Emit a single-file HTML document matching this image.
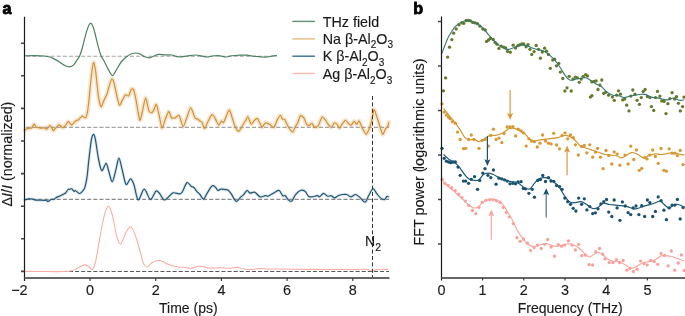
<!DOCTYPE html>
<html><head><meta charset="utf-8"><style>
html,body{margin:0;padding:0;background:#fff;}
body{width:685px;height:316px;overflow:hidden;}
svg{display:block;will-change:transform;}
text{font-family:"Liberation Sans", sans-serif;fill:#1a1a1a;stroke:#1a1a1a;stroke-width:0.15px;}
</style></head><body>
<svg width="685" height="316" viewBox="0 0 685 316">
<rect width="685" height="316" fill="#fff"/>
<path d="M25.1 130.2C25.3 130.04 26.35 129.02 26.8 128.8C27.25 128.58 28.42 128.43 29 128.3C29.58 128.17 31.19 128.2 31.8 127.7C32.41 127.2 33.69 124.07 34.2 124C34.71 123.93 35.64 126.67 36.2 127.1C36.76 127.53 38.36 127.56 39 127.7C39.64 127.84 41.13 128.3 41.7 128.3C42.27 128.3 43.32 127.61 43.9 127.7C44.48 127.79 45.99 129.36 46.7 129.1C47.41 128.84 49.42 125.66 50 125.5C50.58 125.34 51.32 127.09 51.7 127.7C52.09 128.31 52.79 130.7 53.3 130.7C53.81 130.7 55.45 128.38 56.1 127.7C56.75 127.02 58.32 125.06 58.9 124.9C59.48 124.74 60.65 125.97 61.1 126.3C61.55 126.63 62.29 127.79 62.8 127.7C63.31 127.61 64.86 126.21 65.5 125.5C66.14 124.79 67.59 121.67 68.3 121.6C69.01 121.53 70.89 124.83 71.6 124.9C72.31 124.97 73.82 122.74 74.4 122.2C74.98 121.66 76.14 120.56 76.6 120.3C77.05 120.04 77.91 120.23 78.3 120C78.69 119.77 79.46 118.75 79.9 118.3C80.34 117.84 81.52 116.17 82.1 116.1C82.68 116.03 84.45 117.57 84.9 117.7C85.36 117.83 85.71 117.81 86 117.2C86.29 116.59 87.1 114.1 87.4 112.5C87.7 110.9 88.14 107.7 88.6 103.5C89.05 99.3 90.73 81.28 91.3 76.5C91.87 71.72 93 63.12 93.5 62.5C94 61.88 95.04 67.36 95.6 71.2C96.16 75.04 97.67 91.26 98.3 95.4C98.93 99.54 100.37 106.07 101 106.7C101.63 107.33 103.01 102.27 103.7 100.8C104.39 99.33 106.21 95.99 106.9 94.1C107.59 92.21 109.02 86.36 109.6 84.6C110.18 82.84 111.39 79.2 111.9 79C112.41 78.8 113.39 80.78 114 82.9C114.61 85.02 116.46 94.61 117.1 97.2C117.74 99.79 118.89 104.74 119.5 105.1C120.11 105.46 121.6 101.5 122.3 100.3C123 99.1 124.75 95.31 125.5 94.8C126.25 94.29 128.01 96.55 128.7 95.9C129.39 95.25 130.82 89.89 131.4 89.2C131.98 88.51 133.15 88.7 133.7 90C134.25 91.3 135.4 96.79 136.1 100.3C136.8 103.81 138.96 118.8 139.7 120.1C140.44 121.39 141.71 113.99 142.4 111.4C143.09 108.81 144.85 97.99 145.6 97.9C146.35 97.81 148.11 108.87 148.8 110.6C149.49 112.33 150.95 112.7 151.5 112.7C152.05 112.7 152.99 111.53 153.5 110.6C154.01 109.67 155.49 105.19 155.9 104.7C156.31 104.21 156.58 104.97 157 106.4C157.42 107.84 158.92 114.49 159.5 117C160.08 119.51 161.32 127.61 162 127.9C162.68 128.19 164.52 121.41 165.3 119.5C166.08 117.59 168 111.73 168.7 111.5C169.4 111.27 170.6 116.74 171.3 117.5C172 118.26 173.86 118.26 174.7 118C175.54 117.74 177.92 115.47 178.5 115.3C179.08 115.12 179.15 115.18 179.7 116.5C180.25 117.82 182.35 126.54 183.2 126.6C184.05 126.66 186.11 119.2 187 117C187.89 114.8 189.88 107.61 190.8 107.7C191.72 107.79 194.08 116.48 194.9 117.8C195.72 119.12 197.21 118.63 197.8 119C198.4 119.37 199.52 120.63 200 121C200.48 121.37 201.35 121.33 201.9 122.2C202.45 123.08 203.97 128.64 204.7 128.5C205.43 128.36 207.35 122.62 208.2 121C209.05 119.38 211.26 115.04 212 114.6C212.74 114.16 213.92 116.31 214.5 117.2C215.08 118.09 216.49 121.28 217 122.2C217.51 123.12 218.38 125.24 218.9 125.1C219.43 124.96 220.94 121.34 221.5 121C222.06 120.66 222.82 123.46 223.7 122.2C224.57 120.94 228.06 110.87 229 110.2C229.94 109.53 231.05 114.5 231.8 116.5C232.55 118.5 234.57 125.6 235.4 127.3C236.23 129 238.01 131.4 238.9 131.1C239.79 130.8 242.19 125.96 243 124.7C243.81 123.44 245.24 121.26 245.8 120.3C246.36 119.34 247.39 116.57 247.8 116.5C248.21 116.43 248.9 118.81 249.3 119.7C249.7 120.59 250.6 124.03 251.2 124.1C251.79 124.17 253.7 120.96 254.4 120.3C255.1 119.64 256.69 118.32 257.2 118.4C257.71 118.48 258.25 119.97 258.8 121C259.35 122.03 261.32 126.77 261.9 127.2C262.48 127.63 263.36 125.21 263.8 124.7C264.24 124.19 265.26 122.95 265.7 122.8C266.14 122.65 267.09 123.18 267.6 123.4C268.11 123.62 269.37 124.26 270.1 124.7C270.84 125.14 273.01 127.87 273.9 127.2C274.79 126.53 276.93 120.4 277.7 119C278.47 117.6 279.94 115.18 280.5 115.2C281.06 115.22 282.01 118.69 282.5 119.2C282.99 119.71 284 118.67 284.7 119.6C285.4 120.53 287.57 125.77 288.5 127.2C289.43 128.63 291.89 131.97 292.7 131.9C293.5 131.83 294.78 127.73 295.4 126.6C296.02 125.47 297.43 123.46 298 122.2C298.57 120.94 299.63 116.33 300.3 115.8C300.97 115.27 302.94 116.66 303.7 117.7C304.46 118.74 306.13 123.81 306.8 124.7C307.47 125.59 308.81 125.45 309.4 125.3C309.99 125.15 311.32 123.18 311.9 123.4C312.48 123.62 313.66 126.9 314.4 127.2C315.13 127.5 317.31 127.18 318.2 126C319.09 124.82 321.11 117.77 322 117.1C322.89 116.43 325.16 119.56 325.8 120.3C326.44 121.03 326.86 122.59 327.5 123.4C328.14 124.21 330.48 127.27 331.3 127.2C332.12 127.13 333.83 123.14 334.5 122.8C335.17 122.46 336.4 123.68 337 124.3C337.6 124.92 339 128.12 339.6 128.1C340.2 128.08 341.41 125.01 342.1 124.1C342.79 123.19 344.83 120.45 345.5 120.3C346.17 120.15 347.16 122.22 347.8 122.8C348.44 123.38 350.26 125.47 351 125.3C351.74 125.12 353.45 121.42 354.1 121.3C354.75 121.18 356.01 124.35 356.6 124.3C357.19 124.25 358.61 120.63 359.2 120.9C359.79 121.17 360.89 125.05 361.7 126.6C362.5 128.15 365.21 133.98 366.1 134.2C366.99 134.42 368.63 130.12 369.3 128.5C369.97 126.88 371.29 122.45 371.8 120.3C372.31 118.15 373.33 111.14 373.7 110.1C374.07 109.06 374.4 109.92 375 111.4C375.6 112.88 377.91 120.14 378.8 122.8C379.69 125.46 381.82 133.49 382.6 134.2C383.38 134.91 384.91 129.79 385.5 128.9C386.09 128.01 387.3 127.38 387.7 126.6C388.1 125.82 388.76 122.71 388.9 122.2" fill="none" stroke="#f6e5cf" stroke-width="4.6" stroke-linejoin="round" stroke-linecap="round"/><path d="M24.7 199.8C25.36 199.66 27.63 199.01 28.9 198.9C30.17 198.79 31.7 198.91 32.7 199.1C33.7 199.29 34.2 199.94 35.2 200.1C36.2 200.26 37.61 200.05 39 200.1C40.39 200.15 42.89 200.4 44 200.4C45.11 200.4 45.34 199.94 46 200.1C46.66 200.26 47.41 201.5 48.2 201.4C48.99 201.31 50.05 199.85 51 199.5C51.95 199.15 53.41 199.47 54.2 199.2C54.99 198.93 55.27 198.24 56 197.8C56.73 197.36 57.98 196.78 58.8 196.4C59.62 196.02 60.44 195.78 61.2 195.4C61.96 195.02 62.92 194.38 63.6 194C64.28 193.62 64.77 193.73 65.5 193C66.23 192.27 67.52 189.97 68.2 189.4C68.88 188.83 69.25 189.5 69.8 189.4C70.35 189.31 71.03 188.5 71.7 188.8C72.37 189.1 73.4 191 74 191.3C74.6 191.6 74.66 190.35 75.5 190.7C76.34 191.05 78.33 193.28 79.3 193.5C80.27 193.72 80.86 192.78 81.6 192.1C82.34 191.42 83.4 190.26 84 189.2C84.6 188.14 84.99 186.9 85.4 185.4C85.81 183.9 86.28 181.5 86.6 179.7C86.92 177.89 87.05 177.07 87.4 174C87.75 170.93 88.18 165.67 88.8 160.3C89.42 154.93 90.59 144.19 91.3 140.1C92.01 136.01 92.67 134.71 93.3 134.5C93.93 134.29 94.51 135.13 95.3 138.8C96.09 142.47 97.29 152.66 98.3 157.7C99.31 162.73 100.47 169.71 101.7 170.6C102.94 171.49 104.99 163.24 106.1 163.3C107.21 163.36 107.72 168.09 108.7 171C109.68 173.91 111.13 182.05 112.3 181.7C113.47 181.35 115.05 172.52 116.1 168.8C117.14 165.08 117.97 158.2 118.9 158.2C119.83 158.2 120.88 164.67 122 168.8C123.12 172.93 124.65 182.72 126 184.3C127.35 185.88 129.26 178.8 130.5 178.8C131.74 178.8 132.58 180.96 133.8 184.3C135.02 187.64 136.55 199.12 138.2 199.9C139.85 200.68 142.27 189.28 144.2 189.2C146.13 189.12 148.53 199.12 150.4 199.4C152.27 199.69 154.59 191.98 156 191C157.41 190.02 158 191.79 159.3 193.2C160.6 194.61 162.79 199.27 164.2 199.9C165.61 200.53 166.81 198.32 168.2 197.2C169.59 196.08 171.13 193.32 173 192.8C174.87 192.28 178.48 194.14 180 193.9C181.52 193.66 181.49 193.09 182.6 191.3C183.71 189.51 185.62 183.36 187 182.6C188.38 181.84 190.21 185.72 191.3 186.5C192.39 187.28 192.93 186.6 193.9 187.5C194.87 188.4 196.43 191.09 197.4 192.2C198.37 193.31 199.03 193.39 200 194.5C200.97 195.61 202.39 199.37 203.5 199.2C204.61 199.03 205.62 195.52 207 193.4C208.38 191.28 210.82 186.73 212.2 185.8C213.58 184.87 214.8 186.76 215.7 187.5C216.6 188.24 217.08 190.23 217.9 190.5C218.72 190.77 219.73 189.34 220.9 189.2C222.07 189.06 224.19 189.49 225.3 189.6C226.41 189.71 226.95 189.22 227.9 189.9C228.85 190.58 230.33 192.52 231.3 193.9C232.27 195.28 233.16 197.41 234 198.6C234.84 199.79 235.51 201.67 236.6 201.4C237.69 201.13 239.81 197.94 240.9 196.9C241.99 195.86 242.53 195.81 243.5 194.8C244.47 193.79 245.97 190.77 247 190.5C248.03 190.23 248.76 192.83 250 193.1C251.24 193.37 253.2 191.6 254.8 192.2C256.4 192.8 258.44 196.35 260.1 196.9C261.76 197.45 264.06 195.81 265.3 195.7C266.54 195.59 267.08 196.34 267.9 196.2C268.72 196.06 269.39 195.43 270.5 194.8C271.61 194.17 273.52 192.88 274.9 192.2C276.28 191.52 277.96 189.95 279.2 190.5C280.44 191.05 281.73 194.88 282.7 195.7C283.67 196.52 284.33 194.96 285.3 195.7C286.27 196.44 287.74 199.58 288.8 200.4C289.86 201.22 290.95 201.79 292 200.9C293.05 200.01 294.09 196.45 295.4 194.8C296.71 193.15 298.78 191.05 300.3 190.5C301.82 189.95 303.7 190.4 305 191.3C306.3 192.2 307.39 195.31 308.5 196.2C309.61 197.09 310.62 196.98 312 196.9C313.38 196.82 315.96 195.75 317.2 195.7C318.44 195.65 318.79 196.96 319.8 196.6C320.81 196.24 322.37 193.46 323.6 193.4C324.84 193.34 326.41 195.84 327.6 196.2C328.79 196.56 329.99 195.43 331.1 195.7C332.21 195.97 333.49 197.9 334.6 197.9C335.71 197.9 336.87 196.24 338.1 195.7C339.34 195.16 341.02 194.69 342.4 194.5C343.78 194.31 345.47 194.12 346.8 194.5C348.13 194.88 349.42 196.9 350.8 196.9C352.18 196.9 354.07 194.42 355.5 194.5C356.93 194.58 358.28 196.2 359.8 197.4C361.32 198.6 363.71 202.37 365.1 202.1C366.49 201.83 367.37 197.82 368.6 195.7C369.84 193.58 371.66 189.11 372.9 188.7C374.13 188.29 375.29 191.72 376.4 193.1C377.51 194.48 378.66 196.36 379.9 197.4C381.13 198.44 383.11 199.83 384.2 199.7C385.29 199.57 386.1 197.04 386.8 196.6C387.5 196.16 388.31 196.85 388.6 196.9" fill="none" stroke="#dde6ec" stroke-width="3.2" stroke-linejoin="round" stroke-linecap="round"/><path d="M24.5 56.2H277" stroke="#a3a3a3" stroke-width="1.1" stroke-dasharray="4.1 2" stroke-dashoffset="4.4" fill="none"/><path d="M24.5 127.4H389" stroke="#a3a3a3" stroke-width="1.1" stroke-dasharray="4.1 2" stroke-dashoffset="4.4" fill="none"/><path d="M24.5 199.4H389" stroke="#8a8a8a" stroke-width="1.1" stroke-dasharray="4.1 2" stroke-dashoffset="4.4" fill="none"/><path d="M24.5 271.5H389" stroke="#5a5a5a" stroke-width="1.1" stroke-dasharray="4.1 2" stroke-dashoffset="4.4" fill="none"/><path d="M24.5 55.8C26.25 55.78 31.75 55.67 35 55.7C38.25 55.73 41.5 55.78 44 56C46.5 56.22 48.17 56.43 50 57C51.83 57.57 53.33 58.5 55 59.4C56.67 60.3 58.48 61.45 60 62.4C61.52 63.35 62.57 64.35 64.1 65.1C65.63 65.85 67.65 66.9 69.2 66.9C70.75 66.9 72.2 66.1 73.4 65.1C74.6 64.1 75.37 62.4 76.4 60.9C77.43 59.4 78.62 58.27 79.6 56.1C80.58 53.93 81.42 50.98 82.3 47.9C83.18 44.82 84.02 40.85 84.9 37.6C85.78 34.35 86.68 30.8 87.6 28.4C88.52 26 89.52 23.55 90.4 23.2C91.28 22.85 92.08 24.42 92.9 26.3C93.72 28.18 94.45 31.25 95.3 34.5C96.15 37.75 97.03 42.27 98 45.8C98.97 49.33 100.07 53.13 101.1 55.7C102.13 58.27 103 58.92 104.2 61.2C105.4 63.48 106.93 67 108.3 69.4C109.67 71.8 111.2 75.25 112.4 75.6C113.6 75.95 114.3 73.38 115.5 71.5C116.7 69.62 118.35 66.22 119.6 64.3C120.85 62.38 121.65 61.38 123 60C124.35 58.62 126.37 57 127.7 56C129.03 55 129.57 54.5 131 54C132.43 53.5 134.8 53 136.3 53C137.8 53 138.72 53.42 140 54C141.28 54.58 142.43 55.85 144 56.5C145.57 57.15 147.73 57.98 149.4 57.9C151.07 57.82 152.47 56.58 154 56C155.53 55.42 156.77 54.6 158.6 54.4C160.43 54.2 162.82 54.7 165 54.8C167.18 54.9 170.03 54.8 171.7 55C173.37 55.2 173.68 55.67 175 56C176.32 56.33 177.6 57 179.6 57C181.6 57 184.37 56.33 187 56C189.63 55.67 193.07 55.03 195.4 55C197.73 54.97 199.03 55.47 201 55.8C202.97 56.13 205.37 56.97 207.2 57C209.03 57.03 210.25 56.25 212 56C213.75 55.75 216.2 55.5 217.7 55.5C219.2 55.5 219.68 55.75 221 56C222.32 56.25 224.1 57 225.6 57C227.1 57 228.47 56.25 230 56C231.53 55.75 233.13 55.63 234.8 55.5C236.47 55.37 238.03 55.25 240 55.2C241.97 55.15 244.6 55.07 246.6 55.2C248.6 55.33 250.27 55.78 252 56C253.73 56.22 255.33 56.33 257 56.5C258.67 56.67 260.23 56.92 262 57C263.77 57.08 265.93 57.17 267.6 57C269.27 56.83 270.43 56.25 272 56C273.57 55.75 276.17 55.58 277 55.5" fill="none" stroke="#4a8061" stroke-width="1.2" stroke-linejoin="round"/><path d="M25.1 130.2C25.3 130.04 26.35 129.02 26.8 128.8C27.25 128.58 28.42 128.43 29 128.3C29.58 128.17 31.19 128.2 31.8 127.7C32.41 127.2 33.69 124.07 34.2 124C34.71 123.93 35.64 126.67 36.2 127.1C36.76 127.53 38.36 127.56 39 127.7C39.64 127.84 41.13 128.3 41.7 128.3C42.27 128.3 43.32 127.61 43.9 127.7C44.48 127.79 45.99 129.36 46.7 129.1C47.41 128.84 49.42 125.66 50 125.5C50.58 125.34 51.32 127.09 51.7 127.7C52.09 128.31 52.79 130.7 53.3 130.7C53.81 130.7 55.45 128.38 56.1 127.7C56.75 127.02 58.32 125.06 58.9 124.9C59.48 124.74 60.65 125.97 61.1 126.3C61.55 126.63 62.29 127.79 62.8 127.7C63.31 127.61 64.86 126.21 65.5 125.5C66.14 124.79 67.59 121.67 68.3 121.6C69.01 121.53 70.89 124.83 71.6 124.9C72.31 124.97 73.82 122.74 74.4 122.2C74.98 121.66 76.14 120.56 76.6 120.3C77.05 120.04 77.91 120.23 78.3 120C78.69 119.77 79.46 118.75 79.9 118.3C80.34 117.84 81.52 116.17 82.1 116.1C82.68 116.03 84.45 117.57 84.9 117.7C85.36 117.83 85.71 117.81 86 117.2C86.29 116.59 87.1 114.1 87.4 112.5C87.7 110.9 88.14 107.7 88.6 103.5C89.05 99.3 90.73 81.28 91.3 76.5C91.87 71.72 93 63.12 93.5 62.5C94 61.88 95.04 67.36 95.6 71.2C96.16 75.04 97.67 91.26 98.3 95.4C98.93 99.54 100.37 106.07 101 106.7C101.63 107.33 103.01 102.27 103.7 100.8C104.39 99.33 106.21 95.99 106.9 94.1C107.59 92.21 109.02 86.36 109.6 84.6C110.18 82.84 111.39 79.2 111.9 79C112.41 78.8 113.39 80.78 114 82.9C114.61 85.02 116.46 94.61 117.1 97.2C117.74 99.79 118.89 104.74 119.5 105.1C120.11 105.46 121.6 101.5 122.3 100.3C123 99.1 124.75 95.31 125.5 94.8C126.25 94.29 128.01 96.55 128.7 95.9C129.39 95.25 130.82 89.89 131.4 89.2C131.98 88.51 133.15 88.7 133.7 90C134.25 91.3 135.4 96.79 136.1 100.3C136.8 103.81 138.96 118.8 139.7 120.1C140.44 121.39 141.71 113.99 142.4 111.4C143.09 108.81 144.85 97.99 145.6 97.9C146.35 97.81 148.11 108.87 148.8 110.6C149.49 112.33 150.95 112.7 151.5 112.7C152.05 112.7 152.99 111.53 153.5 110.6C154.01 109.67 155.49 105.19 155.9 104.7C156.31 104.21 156.58 104.97 157 106.4C157.42 107.84 158.92 114.49 159.5 117C160.08 119.51 161.32 127.61 162 127.9C162.68 128.19 164.52 121.41 165.3 119.5C166.08 117.59 168 111.73 168.7 111.5C169.4 111.27 170.6 116.74 171.3 117.5C172 118.26 173.86 118.26 174.7 118C175.54 117.74 177.92 115.47 178.5 115.3C179.08 115.12 179.15 115.18 179.7 116.5C180.25 117.82 182.35 126.54 183.2 126.6C184.05 126.66 186.11 119.2 187 117C187.89 114.8 189.88 107.61 190.8 107.7C191.72 107.79 194.08 116.48 194.9 117.8C195.72 119.12 197.21 118.63 197.8 119C198.4 119.37 199.52 120.63 200 121C200.48 121.37 201.35 121.33 201.9 122.2C202.45 123.08 203.97 128.64 204.7 128.5C205.43 128.36 207.35 122.62 208.2 121C209.05 119.38 211.26 115.04 212 114.6C212.74 114.16 213.92 116.31 214.5 117.2C215.08 118.09 216.49 121.28 217 122.2C217.51 123.12 218.38 125.24 218.9 125.1C219.43 124.96 220.94 121.34 221.5 121C222.06 120.66 222.82 123.46 223.7 122.2C224.57 120.94 228.06 110.87 229 110.2C229.94 109.53 231.05 114.5 231.8 116.5C232.55 118.5 234.57 125.6 235.4 127.3C236.23 129 238.01 131.4 238.9 131.1C239.79 130.8 242.19 125.96 243 124.7C243.81 123.44 245.24 121.26 245.8 120.3C246.36 119.34 247.39 116.57 247.8 116.5C248.21 116.43 248.9 118.81 249.3 119.7C249.7 120.59 250.6 124.03 251.2 124.1C251.79 124.17 253.7 120.96 254.4 120.3C255.1 119.64 256.69 118.32 257.2 118.4C257.71 118.48 258.25 119.97 258.8 121C259.35 122.03 261.32 126.77 261.9 127.2C262.48 127.63 263.36 125.21 263.8 124.7C264.24 124.19 265.26 122.95 265.7 122.8C266.14 122.65 267.09 123.18 267.6 123.4C268.11 123.62 269.37 124.26 270.1 124.7C270.84 125.14 273.01 127.87 273.9 127.2C274.79 126.53 276.93 120.4 277.7 119C278.47 117.6 279.94 115.18 280.5 115.2C281.06 115.22 282.01 118.69 282.5 119.2C282.99 119.71 284 118.67 284.7 119.6C285.4 120.53 287.57 125.77 288.5 127.2C289.43 128.63 291.89 131.97 292.7 131.9C293.5 131.83 294.78 127.73 295.4 126.6C296.02 125.47 297.43 123.46 298 122.2C298.57 120.94 299.63 116.33 300.3 115.8C300.97 115.27 302.94 116.66 303.7 117.7C304.46 118.74 306.13 123.81 306.8 124.7C307.47 125.59 308.81 125.45 309.4 125.3C309.99 125.15 311.32 123.18 311.9 123.4C312.48 123.62 313.66 126.9 314.4 127.2C315.13 127.5 317.31 127.18 318.2 126C319.09 124.82 321.11 117.77 322 117.1C322.89 116.43 325.16 119.56 325.8 120.3C326.44 121.03 326.86 122.59 327.5 123.4C328.14 124.21 330.48 127.27 331.3 127.2C332.12 127.13 333.83 123.14 334.5 122.8C335.17 122.46 336.4 123.68 337 124.3C337.6 124.92 339 128.12 339.6 128.1C340.2 128.08 341.41 125.01 342.1 124.1C342.79 123.19 344.83 120.45 345.5 120.3C346.17 120.15 347.16 122.22 347.8 122.8C348.44 123.38 350.26 125.47 351 125.3C351.74 125.12 353.45 121.42 354.1 121.3C354.75 121.18 356.01 124.35 356.6 124.3C357.19 124.25 358.61 120.63 359.2 120.9C359.79 121.17 360.89 125.05 361.7 126.6C362.5 128.15 365.21 133.98 366.1 134.2C366.99 134.42 368.63 130.12 369.3 128.5C369.97 126.88 371.29 122.45 371.8 120.3C372.31 118.15 373.33 111.14 373.7 110.1C374.07 109.06 374.4 109.92 375 111.4C375.6 112.88 377.91 120.14 378.8 122.8C379.69 125.46 381.82 133.49 382.6 134.2C383.38 134.91 384.91 129.79 385.5 128.9C386.09 128.01 387.3 127.38 387.7 126.6C388.1 125.82 388.76 122.71 388.9 122.2" fill="none" stroke="#d08f31" stroke-width="1.15" stroke-linejoin="round"/><path d="M24.7 199.8C25.36 199.66 27.63 199.01 28.9 198.9C30.17 198.79 31.7 198.91 32.7 199.1C33.7 199.29 34.2 199.94 35.2 200.1C36.2 200.26 37.61 200.05 39 200.1C40.39 200.15 42.89 200.4 44 200.4C45.11 200.4 45.34 199.94 46 200.1C46.66 200.26 47.41 201.5 48.2 201.4C48.99 201.31 50.05 199.85 51 199.5C51.95 199.15 53.41 199.47 54.2 199.2C54.99 198.93 55.27 198.24 56 197.8C56.73 197.36 57.98 196.78 58.8 196.4C59.62 196.02 60.44 195.78 61.2 195.4C61.96 195.02 62.92 194.38 63.6 194C64.28 193.62 64.77 193.73 65.5 193C66.23 192.27 67.52 189.97 68.2 189.4C68.88 188.83 69.25 189.5 69.8 189.4C70.35 189.31 71.03 188.5 71.7 188.8C72.37 189.1 73.4 191 74 191.3C74.6 191.6 74.66 190.35 75.5 190.7C76.34 191.05 78.33 193.28 79.3 193.5C80.27 193.72 80.86 192.78 81.6 192.1C82.34 191.42 83.4 190.26 84 189.2C84.6 188.14 84.99 186.9 85.4 185.4C85.81 183.9 86.28 181.5 86.6 179.7C86.92 177.89 87.05 177.07 87.4 174C87.75 170.93 88.18 165.67 88.8 160.3C89.42 154.93 90.59 144.19 91.3 140.1C92.01 136.01 92.67 134.71 93.3 134.5C93.93 134.29 94.51 135.13 95.3 138.8C96.09 142.47 97.29 152.66 98.3 157.7C99.31 162.73 100.47 169.71 101.7 170.6C102.94 171.49 104.99 163.24 106.1 163.3C107.21 163.36 107.72 168.09 108.7 171C109.68 173.91 111.13 182.05 112.3 181.7C113.47 181.35 115.05 172.52 116.1 168.8C117.14 165.08 117.97 158.2 118.9 158.2C119.83 158.2 120.88 164.67 122 168.8C123.12 172.93 124.65 182.72 126 184.3C127.35 185.88 129.26 178.8 130.5 178.8C131.74 178.8 132.58 180.96 133.8 184.3C135.02 187.64 136.55 199.12 138.2 199.9C139.85 200.68 142.27 189.28 144.2 189.2C146.13 189.12 148.53 199.12 150.4 199.4C152.27 199.69 154.59 191.98 156 191C157.41 190.02 158 191.79 159.3 193.2C160.6 194.61 162.79 199.27 164.2 199.9C165.61 200.53 166.81 198.32 168.2 197.2C169.59 196.08 171.13 193.32 173 192.8C174.87 192.28 178.48 194.14 180 193.9C181.52 193.66 181.49 193.09 182.6 191.3C183.71 189.51 185.62 183.36 187 182.6C188.38 181.84 190.21 185.72 191.3 186.5C192.39 187.28 192.93 186.6 193.9 187.5C194.87 188.4 196.43 191.09 197.4 192.2C198.37 193.31 199.03 193.39 200 194.5C200.97 195.61 202.39 199.37 203.5 199.2C204.61 199.03 205.62 195.52 207 193.4C208.38 191.28 210.82 186.73 212.2 185.8C213.58 184.87 214.8 186.76 215.7 187.5C216.6 188.24 217.08 190.23 217.9 190.5C218.72 190.77 219.73 189.34 220.9 189.2C222.07 189.06 224.19 189.49 225.3 189.6C226.41 189.71 226.95 189.22 227.9 189.9C228.85 190.58 230.33 192.52 231.3 193.9C232.27 195.28 233.16 197.41 234 198.6C234.84 199.79 235.51 201.67 236.6 201.4C237.69 201.13 239.81 197.94 240.9 196.9C241.99 195.86 242.53 195.81 243.5 194.8C244.47 193.79 245.97 190.77 247 190.5C248.03 190.23 248.76 192.83 250 193.1C251.24 193.37 253.2 191.6 254.8 192.2C256.4 192.8 258.44 196.35 260.1 196.9C261.76 197.45 264.06 195.81 265.3 195.7C266.54 195.59 267.08 196.34 267.9 196.2C268.72 196.06 269.39 195.43 270.5 194.8C271.61 194.17 273.52 192.88 274.9 192.2C276.28 191.52 277.96 189.95 279.2 190.5C280.44 191.05 281.73 194.88 282.7 195.7C283.67 196.52 284.33 194.96 285.3 195.7C286.27 196.44 287.74 199.58 288.8 200.4C289.86 201.22 290.95 201.79 292 200.9C293.05 200.01 294.09 196.45 295.4 194.8C296.71 193.15 298.78 191.05 300.3 190.5C301.82 189.95 303.7 190.4 305 191.3C306.3 192.2 307.39 195.31 308.5 196.2C309.61 197.09 310.62 196.98 312 196.9C313.38 196.82 315.96 195.75 317.2 195.7C318.44 195.65 318.79 196.96 319.8 196.6C320.81 196.24 322.37 193.46 323.6 193.4C324.84 193.34 326.41 195.84 327.6 196.2C328.79 196.56 329.99 195.43 331.1 195.7C332.21 195.97 333.49 197.9 334.6 197.9C335.71 197.9 336.87 196.24 338.1 195.7C339.34 195.16 341.02 194.69 342.4 194.5C343.78 194.31 345.47 194.12 346.8 194.5C348.13 194.88 349.42 196.9 350.8 196.9C352.18 196.9 354.07 194.42 355.5 194.5C356.93 194.58 358.28 196.2 359.8 197.4C361.32 198.6 363.71 202.37 365.1 202.1C366.49 201.83 367.37 197.82 368.6 195.7C369.84 193.58 371.66 189.11 372.9 188.7C374.13 188.29 375.29 191.72 376.4 193.1C377.51 194.48 378.66 196.36 379.9 197.4C381.13 198.44 383.11 199.83 384.2 199.7C385.29 199.57 386.1 197.04 386.8 196.6C387.5 196.16 388.31 196.85 388.6 196.9" fill="none" stroke="#1f5672" stroke-width="1.2" stroke-linejoin="round"/><path d="M24.5 271.4C27.08 271.42 34.92 271.47 40 271.5C45.08 271.53 51.33 271.58 55 271.6C58.67 271.62 59.37 271.68 62 271.6C64.63 271.52 68.22 271.67 70.8 271.1C73.38 270.53 75.27 269.23 77.5 268.2C79.73 267.17 82.42 265.22 84.2 264.9C85.98 264.58 86.85 265.53 88.2 266.3C89.55 267.07 91.08 270.18 92.3 269.5C93.52 268.82 94.17 267.9 95.5 262.2C96.83 256.5 98.82 243.13 100.3 235.3C101.78 227.47 103.05 220.03 104.4 215.2C105.75 210.37 107.07 206.3 108.4 206.3C109.73 206.3 111.05 210.37 112.4 215.2C113.75 220.03 115.15 230.5 116.5 235.3C117.85 240.1 118.93 244.43 120.5 244C122.07 243.57 124.2 235.58 125.9 232.7C127.6 229.82 129.13 226.27 130.7 226.7C132.27 227.13 133.75 231.23 135.3 235.3C136.85 239.37 138.63 246.42 140 251.1C141.37 255.78 142.33 260.77 143.5 263.4C144.67 266.03 145.53 267.05 147 266.9C148.47 266.75 150.4 263.58 152.3 262.5C154.2 261.42 156.65 260.55 158.4 260.4C160.15 260.25 160.9 260.82 162.8 261.6C164.7 262.38 167.18 264.22 169.8 265.1C172.42 265.98 175.88 266.52 178.5 266.9C181.12 267.28 183.45 267.17 185.5 267.4C187.55 267.63 188.75 268.47 190.8 268.3C192.85 268.13 195.47 266.63 197.8 266.4C200.13 266.17 202.77 266.62 204.8 266.9C206.83 267.18 207.37 267.95 210 268.1C212.63 268.25 217.38 267.77 220.6 267.8C223.82 267.83 226.38 268.37 229.3 268.3C232.22 268.23 235.47 267.25 238.1 267.4C240.73 267.55 242.77 268.85 245.1 269.2C247.43 269.55 249.62 269.6 252.1 269.5C254.58 269.4 257.02 268.68 260 268.6C262.98 268.52 264.28 268.9 270 269C275.72 269.1 284.63 269.12 294.3 269.2C303.97 269.28 317.88 269.47 328 269.5C338.12 269.53 349.05 269.47 355 269.4C360.95 269.33 361.53 269.07 363.7 269.1C365.87 269.13 366.62 269.32 368 269.6C369.38 269.88 370.67 270.77 372 270.8C373.33 270.83 374.67 270.07 376 269.8C377.33 269.53 377.95 269.25 380 269.2C382.05 269.15 386.92 269.45 388.3 269.5" fill="none" stroke="#f9aaa2" stroke-width="1.05" stroke-linejoin="round"/><path d="M372.5 96V278" stroke="#333" stroke-width="1" stroke-dasharray="4 2.4" fill="none"/><path d="M24.5 16.8V281" stroke="#1a1a1a" stroke-width="1.2" fill="none"/><path d="M24.5 278H389.5" stroke="#666" stroke-width="1.8" fill="none"/><path d="M21 43.2H24.5M21 75.8H24.5M21 108.4H24.5M21 141H24.5M21 173.6H24.5M21 206.2H24.5M21 238.8H24.5M21 271.4H24.5" stroke="#444" stroke-width="1.6" fill="none"/><path d="M90 277.9V281M155.7 277.9V281M221.4 277.9V281M287.1 277.9V281M352.8 277.9V281" stroke="#333" stroke-width="1.1" fill="none"/><g fill="#637a2c"><circle cx="567" cy="87.8" r="1.65"/><circle cx="564.9" cy="91" r="1.65"/><circle cx="571.2" cy="91" r="1.65"/><circle cx="443.4" cy="90.8" r="1.65"/><circle cx="445.6" cy="77.9" r="1.65"/><circle cx="447.6" cy="57.1" r="1.65"/><circle cx="449.5" cy="47.2" r="1.65"/><circle cx="451.8" cy="39.6" r="1.65"/><circle cx="453.7" cy="33.2" r="1.65"/><circle cx="456.2" cy="29" r="1.65"/><circle cx="459" cy="24.8" r="1.65"/><circle cx="461.9" cy="22.9" r="1.65"/><circle cx="463.8" cy="23.3" r="1.65"/><circle cx="466.2" cy="20.5" r="1.65"/><circle cx="468.5" cy="20.5" r="1.65"/><circle cx="470.4" cy="20.8" r="1.65"/><circle cx="472.7" cy="22.4" r="1.65"/><circle cx="475.2" cy="22.9" r="1.65"/><circle cx="477.6" cy="23.7" r="1.65"/><circle cx="479.9" cy="26.2" r="1.65"/><circle cx="482.8" cy="29" r="1.65"/><circle cx="485.2" cy="30" r="1.65"/><circle cx="486.6" cy="41.4" r="1.65"/><circle cx="488.5" cy="40" r="1.65"/><circle cx="490.4" cy="38.5" r="1.65"/><circle cx="493.2" cy="39.5" r="1.65"/><circle cx="495.1" cy="42.3" r="1.65"/><circle cx="497" cy="44.2" r="1.65"/><circle cx="498.9" cy="48.4" r="1.65"/><circle cx="501.2" cy="46.1" r="1.65"/><circle cx="503.7" cy="47.1" r="1.65"/><circle cx="505.6" cy="48" r="1.65"/><circle cx="507.5" cy="51.4" r="1.65"/><circle cx="510.3" cy="52.2" r="1.65"/><circle cx="513.2" cy="45.2" r="1.65"/><circle cx="515.6" cy="48" r="1.65"/><circle cx="517.9" cy="45.7" r="1.65"/><circle cx="519.5" cy="44.9" r="1.65"/><circle cx="521.8" cy="44" r="1.65"/><circle cx="523.7" cy="44" r="1.65"/><circle cx="526.1" cy="46.8" r="1.65"/><circle cx="528" cy="44.6" r="1.65"/><circle cx="529.9" cy="49.3" r="1.65"/><circle cx="531.8" cy="54.4" r="1.65"/><circle cx="534.1" cy="51.6" r="1.65"/><circle cx="536.2" cy="45.5" r="1.65"/><circle cx="538.5" cy="49.3" r="1.65"/><circle cx="540.4" cy="58.2" r="1.65"/><circle cx="542.3" cy="52" r="1.65"/><circle cx="544.6" cy="48.2" r="1.65"/><circle cx="546.5" cy="51.2" r="1.65"/><circle cx="548.4" cy="54.4" r="1.65"/><circle cx="550.3" cy="68.3" r="1.65"/><circle cx="552.7" cy="60.1" r="1.65"/><circle cx="554.6" cy="59.2" r="1.65"/><circle cx="556.5" cy="65.8" r="1.65"/><circle cx="558.8" cy="63.4" r="1.65"/><circle cx="560.3" cy="72.1" r="1.65"/><circle cx="562.8" cy="78.5" r="1.65"/><circle cx="569.2" cy="76.3" r="1.65"/><circle cx="573" cy="79.1" r="1.65"/><circle cx="575.5" cy="77.2" r="1.65"/><circle cx="577.4" cy="77.8" r="1.65"/><circle cx="579.3" cy="82.3" r="1.65"/><circle cx="581.2" cy="79.1" r="1.65"/><circle cx="583.1" cy="76.3" r="1.65"/><circle cx="585.6" cy="74.7" r="1.65"/><circle cx="587.5" cy="75.9" r="1.65"/><circle cx="591.9" cy="81.9" r="1.65"/><circle cx="594.2" cy="81.5" r="1.65"/><circle cx="596.1" cy="80.9" r="1.65"/><circle cx="591.9" cy="95.7" r="1.65"/><circle cx="590.4" cy="97.1" r="1.65"/><circle cx="598" cy="89.5" r="1.65"/><circle cx="599.9" cy="85.1" r="1.65"/><circle cx="601.8" cy="80" r="1.65"/><circle cx="603.7" cy="93.3" r="1.65"/><circle cx="605.6" cy="92.3" r="1.65"/><circle cx="608.6" cy="95.2" r="1.65"/><circle cx="612.4" cy="97.1" r="1.65"/><circle cx="614.3" cy="100.3" r="1.65"/><circle cx="616.6" cy="95.2" r="1.65"/><circle cx="618.5" cy="90.8" r="1.65"/><circle cx="620.4" cy="94.2" r="1.65"/><circle cx="622.7" cy="99.9" r="1.65"/><circle cx="624.6" cy="99" r="1.65"/><circle cx="626.7" cy="105.2" r="1.65"/><circle cx="629" cy="110.9" r="1.65"/><circle cx="630.9" cy="96.1" r="1.65"/><circle cx="632.8" cy="90" r="1.65"/><circle cx="635" cy="94.2" r="1.65"/><circle cx="637.1" cy="100.3" r="1.65"/><circle cx="639.4" cy="104.3" r="1.65"/><circle cx="641.3" cy="97.6" r="1.65"/><circle cx="643.2" cy="91.4" r="1.65"/><circle cx="645.1" cy="89.5" r="1.65"/><circle cx="647.4" cy="96.5" r="1.65"/><circle cx="649.9" cy="97.6" r="1.65"/><circle cx="651.4" cy="106.6" r="1.65"/><circle cx="653.7" cy="110.4" r="1.65"/><circle cx="655.5" cy="97.6" r="1.65"/><circle cx="657.5" cy="91.4" r="1.65"/><circle cx="659.9" cy="96.1" r="1.65"/><circle cx="661.8" cy="100.9" r="1.65"/><circle cx="664.1" cy="101.4" r="1.65"/><circle cx="666" cy="113.6" r="1.65"/><circle cx="667.9" cy="103.7" r="1.65"/><circle cx="669.8" cy="98.6" r="1.65"/><circle cx="672.1" cy="92.7" r="1.65"/><circle cx="674.6" cy="99" r="1.65"/><circle cx="676.5" cy="96.7" r="1.65"/><circle cx="678.4" cy="103.3" r="1.65"/><circle cx="680.3" cy="110.9" r="1.65"/><circle cx="682.5" cy="106.6" r="1.65"/><circle cx="684" cy="97.1" r="1.65"/></g><g fill="#d99833"><circle cx="442" cy="103.9" r="1.65"/><circle cx="444.2" cy="112.1" r="1.65"/><circle cx="446.4" cy="115" r="1.65"/><circle cx="448.6" cy="117.2" r="1.65"/><circle cx="450.2" cy="118.8" r="1.65"/><circle cx="452.4" cy="121.7" r="1.65"/><circle cx="455.3" cy="123.2" r="1.65"/><circle cx="457.5" cy="132.1" r="1.65"/><circle cx="460.2" cy="139.4" r="1.65"/><circle cx="463.5" cy="148.7" r="1.65"/><circle cx="465.7" cy="148.3" r="1.65"/><circle cx="468.6" cy="139.4" r="1.65"/><circle cx="471.3" cy="135" r="1.65"/><circle cx="473.9" cy="139.4" r="1.65"/><circle cx="479" cy="148.3" r="1.65"/><circle cx="482.3" cy="140.3" r="1.65"/><circle cx="485" cy="139.4" r="1.65"/><circle cx="488.5" cy="146.1" r="1.65"/><circle cx="490.8" cy="135.4" r="1.65"/><circle cx="493.4" cy="129.2" r="1.65"/><circle cx="496.1" cy="139.4" r="1.65"/><circle cx="499" cy="138.1" r="1.65"/><circle cx="501.8" cy="142.5" r="1.65"/><circle cx="504.1" cy="133.6" r="1.65"/><circle cx="507.2" cy="127" r="1.65"/><circle cx="510" cy="127" r="1.65"/><circle cx="512.9" cy="126.6" r="1.65"/><circle cx="515.6" cy="135.9" r="1.65"/><circle cx="518.2" cy="129.2" r="1.65"/><circle cx="521.1" cy="131" r="1.65"/><circle cx="523.3" cy="132.8" r="1.65"/><circle cx="526.2" cy="146.1" r="1.65"/><circle cx="528.9" cy="138.8" r="1.65"/><circle cx="531.5" cy="141" r="1.65"/><circle cx="534.4" cy="141.7" r="1.65"/><circle cx="537.3" cy="147" r="1.65"/><circle cx="540" cy="143.2" r="1.65"/><circle cx="542.6" cy="135" r="1.65"/><circle cx="545.5" cy="141" r="1.65"/><circle cx="548.4" cy="143.2" r="1.65"/><circle cx="551" cy="143.9" r="1.65"/><circle cx="553.7" cy="133.3" r="1.65"/><circle cx="556.6" cy="145" r="1.65"/><circle cx="559.5" cy="148.8" r="1.65"/><circle cx="562.1" cy="135.5" r="1.65"/><circle cx="565" cy="132.8" r="1.65"/><circle cx="567.7" cy="138.8" r="1.65"/><circle cx="570.5" cy="135" r="1.65"/><circle cx="573.2" cy="137.7" r="1.65"/><circle cx="575.4" cy="144.8" r="1.65"/><circle cx="578.3" cy="155" r="1.65"/><circle cx="581.6" cy="146.6" r="1.65"/><circle cx="584.3" cy="145.4" r="1.65"/><circle cx="586.9" cy="152.8" r="1.65"/><circle cx="589.8" cy="144.8" r="1.65"/><circle cx="592.7" cy="157.2" r="1.65"/><circle cx="595.4" cy="152.1" r="1.65"/><circle cx="597.6" cy="148.3" r="1.65"/><circle cx="600.5" cy="157.2" r="1.65"/><circle cx="603.1" cy="168.7" r="1.65"/><circle cx="606" cy="150.5" r="1.65"/><circle cx="608.7" cy="155.4" r="1.65"/><circle cx="611.8" cy="164" r="1.65"/><circle cx="614.2" cy="151.9" r="1.65"/><circle cx="617.1" cy="154.1" r="1.65"/><circle cx="619.9" cy="165.2" r="1.65"/><circle cx="625" cy="155.1" r="1.65"/><circle cx="628.1" cy="164" r="1.65"/><circle cx="630.7" cy="146.2" r="1.65"/><circle cx="633.8" cy="159.5" r="1.65"/><circle cx="636.4" cy="150" r="1.65"/><circle cx="639.3" cy="170.3" r="1.65"/><circle cx="641.7" cy="168.4" r="1.65"/><circle cx="644.6" cy="157.6" r="1.65"/><circle cx="647" cy="158.9" r="1.65"/><circle cx="649.7" cy="155.1" r="1.65"/><circle cx="652.7" cy="150" r="1.65"/><circle cx="655.4" cy="156.4" r="1.65"/><circle cx="658.2" cy="163.3" r="1.65"/><circle cx="661.1" cy="148.5" r="1.65"/><circle cx="663.9" cy="170.3" r="1.65"/><circle cx="666.4" cy="171.2" r="1.65"/><circle cx="669.2" cy="148.8" r="1.65"/><circle cx="672.1" cy="153.2" r="1.65"/><circle cx="674.9" cy="153.2" r="1.65"/><circle cx="677.4" cy="155.7" r="1.65"/><circle cx="680.2" cy="150.4" r="1.65"/><circle cx="683.1" cy="164.6" r="1.65"/></g><g fill="#18506c"><circle cx="442" cy="148.3" r="1.65"/><circle cx="444.2" cy="158.3" r="1.65"/><circle cx="446.4" cy="161.2" r="1.65"/><circle cx="448.6" cy="162" r="1.65"/><circle cx="450.9" cy="162.7" r="1.65"/><circle cx="453.1" cy="162" r="1.65"/><circle cx="455.3" cy="162" r="1.65"/><circle cx="458" cy="167.1" r="1.65"/><circle cx="460.2" cy="175.3" r="1.65"/><circle cx="463.5" cy="181.1" r="1.65"/><circle cx="465.7" cy="181.1" r="1.65"/><circle cx="468.6" cy="183.3" r="1.65"/><circle cx="471.3" cy="179.3" r="1.65"/><circle cx="474.6" cy="176.7" r="1.65"/><circle cx="477.5" cy="189.3" r="1.65"/><circle cx="479.7" cy="180.4" r="1.65"/><circle cx="482.8" cy="173.1" r="1.65"/><circle cx="485" cy="168.7" r="1.65"/><circle cx="487.9" cy="175.3" r="1.65"/><circle cx="490.8" cy="177.6" r="1.65"/><circle cx="493.4" cy="170" r="1.65"/><circle cx="496.1" cy="184.2" r="1.65"/><circle cx="499" cy="178.2" r="1.65"/><circle cx="501.8" cy="178.9" r="1.65"/><circle cx="504.5" cy="179.8" r="1.65"/><circle cx="507.2" cy="181.1" r="1.65"/><circle cx="510" cy="183.8" r="1.65"/><circle cx="512.9" cy="183.3" r="1.65"/><circle cx="515.6" cy="183.8" r="1.65"/><circle cx="518.2" cy="182" r="1.65"/><circle cx="521.1" cy="181.7" r="1.65"/><circle cx="523.3" cy="188.4" r="1.65"/><circle cx="525.5" cy="188.8" r="1.65"/><circle cx="528.9" cy="193.3" r="1.65"/><circle cx="532.2" cy="189.3" r="1.65"/><circle cx="534.4" cy="197.2" r="1.65"/><circle cx="537.7" cy="180.4" r="1.65"/><circle cx="540.4" cy="179.5" r="1.65"/><circle cx="542.8" cy="175.5" r="1.65"/><circle cx="545.5" cy="181.5" r="1.65"/><circle cx="548.4" cy="177.7" r="1.65"/><circle cx="551" cy="181.1" r="1.65"/><circle cx="553.7" cy="181.3" r="1.65"/><circle cx="556.6" cy="185.5" r="1.65"/><circle cx="559.5" cy="186.6" r="1.65"/><circle cx="562.1" cy="189.3" r="1.65"/><circle cx="564.8" cy="198.1" r="1.65"/><circle cx="567.7" cy="201.7" r="1.65"/><circle cx="570.5" cy="204.3" r="1.65"/><circle cx="573.2" cy="208.3" r="1.65"/><circle cx="575.9" cy="211" r="1.65"/><circle cx="578.7" cy="198.1" r="1.65"/><circle cx="581.6" cy="204.3" r="1.65"/><circle cx="584.3" cy="198.8" r="1.65"/><circle cx="586.9" cy="209.9" r="1.65"/><circle cx="589.8" cy="206.6" r="1.65"/><circle cx="592.7" cy="213.6" r="1.65"/><circle cx="595.4" cy="212.8" r="1.65"/><circle cx="598" cy="208.8" r="1.65"/><circle cx="600.9" cy="203.9" r="1.65"/><circle cx="603.8" cy="201.7" r="1.65"/><circle cx="606.5" cy="199.5" r="1.65"/><circle cx="608.7" cy="212.1" r="1.65"/><circle cx="611.8" cy="216.5" r="1.65"/><circle cx="614.2" cy="200" r="1.65"/><circle cx="617.1" cy="207.9" r="1.65"/><circle cx="619.9" cy="220.3" r="1.65"/><circle cx="622.4" cy="201.9" r="1.65"/><circle cx="625.2" cy="206" r="1.65"/><circle cx="628.1" cy="212.7" r="1.65"/><circle cx="630.7" cy="214.6" r="1.65"/><circle cx="633.2" cy="207.9" r="1.65"/><circle cx="636" cy="206" r="1.65"/><circle cx="638.9" cy="214.6" r="1.65"/><circle cx="641.7" cy="205.7" r="1.65"/><circle cx="644.6" cy="216.5" r="1.65"/><circle cx="647.4" cy="200" r="1.65"/><circle cx="649.9" cy="202.6" r="1.65"/><circle cx="652.7" cy="216.5" r="1.65"/><circle cx="655.4" cy="211.4" r="1.65"/><circle cx="658.2" cy="196.9" r="1.65"/><circle cx="661.1" cy="200.7" r="1.65"/><circle cx="663.9" cy="210.2" r="1.65"/><circle cx="666.4" cy="219.7" r="1.65"/><circle cx="669.2" cy="207.9" r="1.65"/><circle cx="672.1" cy="205.1" r="1.65"/><circle cx="674.9" cy="205.1" r="1.65"/><circle cx="677.4" cy="199.4" r="1.65"/><circle cx="680.2" cy="218.9" r="1.65"/><circle cx="683.1" cy="207.6" r="1.65"/></g><g fill="#fb9f98"><circle cx="442.1" cy="179.3" r="1.65"/><circle cx="444.8" cy="183.3" r="1.65"/><circle cx="448.2" cy="185.5" r="1.65"/><circle cx="451.8" cy="187.7" r="1.65"/><circle cx="455.2" cy="190.6" r="1.65"/><circle cx="458.6" cy="194.2" r="1.65"/><circle cx="462" cy="197.7" r="1.65"/><circle cx="465.3" cy="201.1" r="1.65"/><circle cx="468.8" cy="205.4" r="1.65"/><circle cx="472.4" cy="210.5" r="1.65"/><circle cx="475.8" cy="213.7" r="1.65"/><circle cx="479" cy="207.4" r="1.65"/><circle cx="482.2" cy="202.4" r="1.65"/><circle cx="486" cy="200.3" r="1.65"/><circle cx="489.8" cy="199.8" r="1.65"/><circle cx="493.1" cy="199.8" r="1.65"/><circle cx="496.6" cy="200.8" r="1.65"/><circle cx="499.9" cy="202.4" r="1.65"/><circle cx="503.2" cy="207.4" r="1.65"/><circle cx="506.3" cy="212.5" r="1.65"/><circle cx="509.3" cy="216.8" r="1.65"/><circle cx="513.3" cy="223.6" r="1.65"/><circle cx="516.9" cy="237.7" r="1.65"/><circle cx="520.2" cy="241.3" r="1.65"/><circle cx="523.5" cy="239" r="1.65"/><circle cx="527.3" cy="243.2" r="1.65"/><circle cx="530.6" cy="250.4" r="1.65"/><circle cx="534" cy="247.5" r="1.65"/><circle cx="537.4" cy="245.1" r="1.65"/><circle cx="541.2" cy="248.5" r="1.65"/><circle cx="544.4" cy="244.3" r="1.65"/><circle cx="547.7" cy="239.4" r="1.65"/><circle cx="551.1" cy="247" r="1.65"/><circle cx="554.5" cy="256.1" r="1.65"/><circle cx="558.3" cy="244.7" r="1.65"/><circle cx="561.5" cy="246.2" r="1.65"/><circle cx="564.7" cy="245.1" r="1.65"/><circle cx="568.5" cy="240.9" r="1.65"/><circle cx="572" cy="245.1" r="1.65"/><circle cx="575.4" cy="250" r="1.65"/><circle cx="578.6" cy="244.3" r="1.65"/><circle cx="581.8" cy="255.7" r="1.65"/><circle cx="585.2" cy="255.1" r="1.65"/><circle cx="589" cy="264.6" r="1.65"/><circle cx="592.5" cy="265" r="1.65"/><circle cx="595.7" cy="251.9" r="1.65"/><circle cx="599.5" cy="248.5" r="1.65"/><circle cx="602.7" cy="254.2" r="1.65"/><circle cx="605" cy="258.9" r="1.65"/><circle cx="609.2" cy="262.6" r="1.65"/><circle cx="613" cy="262.6" r="1.65"/><circle cx="616.3" cy="259.7" r="1.65"/><circle cx="619.7" cy="262.6" r="1.65"/><circle cx="623.1" cy="260.5" r="1.65"/><circle cx="626.9" cy="270.2" r="1.65"/><circle cx="630.1" cy="268.3" r="1.65"/><circle cx="633.5" cy="271.5" r="1.65"/><circle cx="637.1" cy="269.2" r="1.65"/><circle cx="640.6" cy="261.1" r="1.65"/><circle cx="644" cy="263.5" r="1.65"/><circle cx="647.2" cy="264.9" r="1.65"/><circle cx="650.6" cy="260.3" r="1.65"/><circle cx="654.2" cy="261.5" r="1.65"/><circle cx="657.7" cy="264.3" r="1.65"/><circle cx="661.1" cy="253.5" r="1.65"/><circle cx="664.5" cy="255.4" r="1.65"/><circle cx="668.1" cy="265.8" r="1.65"/><circle cx="671.3" cy="251" r="1.65"/><circle cx="674.7" cy="270.2" r="1.65"/><circle cx="678.2" cy="263" r="1.65"/><circle cx="681.4" cy="255" r="1.65"/><circle cx="684.2" cy="270.6" r="1.65"/></g><path d="M441.9 53.4C442.37 52.17 443.7 48.55 444.7 46C445.7 43.45 446.83 40.33 447.9 38.1C448.97 35.87 450.05 34.32 451.1 32.6C452.15 30.88 452.88 29.33 454.2 27.8C455.52 26.27 457.42 24.5 459 23.4C460.58 22.3 462.12 21.65 463.7 21.2C465.28 20.75 466.92 20.6 468.5 20.7C470.08 20.8 471.63 21.2 473.2 21.8C474.77 22.4 476.32 23.3 477.9 24.3C479.48 25.3 481.12 26.3 482.7 27.8C484.28 29.3 485.82 31.45 487.4 33.3C488.98 35.15 490.62 37.18 492.2 38.9C493.78 40.62 495.32 42.23 496.9 43.6C498.48 44.97 500.12 46.17 501.7 47.1C503.28 48.03 505.08 48.85 506.4 49.2C507.72 49.55 508.28 49.47 509.6 49.2C510.92 48.93 512.9 48.17 514.3 47.6C515.7 47.03 516.82 46.25 518 45.8C519.18 45.35 519.88 44.88 521.4 44.9C522.92 44.92 525.2 45.35 527.1 45.9C529 46.45 530.9 47.57 532.8 48.2C534.7 48.83 536.6 49.2 538.5 49.7C540.4 50.2 542.3 50.25 544.2 51.2C546.1 52.15 548 53.75 549.9 55.4C551.8 57.05 553.87 59.05 555.6 61.1C557.33 63.15 558.72 65.33 560.3 67.7C561.88 70.07 563.52 73.23 565.1 75.3C566.68 77.37 568.07 79.47 569.8 80.1C571.53 80.73 573.6 79.42 575.5 79.1C577.4 78.78 579.47 78.42 581.2 78.2C582.93 77.98 584.17 77.33 585.9 77.8C587.63 78.27 589.97 80 591.6 81C593.23 82 594.07 82.87 595.7 83.8C597.33 84.73 599.5 85.18 601.4 86.6C603.3 88.02 605.2 90.87 607.1 92.3C609 93.73 610.9 94.63 612.8 95.2C614.7 95.77 616.6 95.3 618.5 95.7C620.4 96.1 622.3 97.53 624.2 97.6C626.1 97.67 628 96.5 629.9 96.1C631.8 95.7 633.7 95.52 635.6 95.2C637.5 94.88 639.57 94.3 641.3 94.2C643.03 94.1 644.42 94.12 646 94.6C647.58 95.08 649.05 96.6 650.8 97.1C652.55 97.6 654.6 97.28 656.5 97.6C658.4 97.92 660.3 98.62 662.2 99C664.1 99.38 666 100.07 667.9 99.9C669.8 99.73 671.7 97.93 673.6 98C675.5 98.07 677.57 99.98 679.3 100.3C681.03 100.62 683.22 99.97 684 99.9" fill="none" stroke="#38776a" stroke-width="1.1"/><path d="M443.5 108.4C444.43 109.58 447.25 113.22 449.1 115.5C450.95 117.78 452.75 119.7 454.6 122.1C456.45 124.5 458.53 127.38 460.2 129.9C461.87 132.42 463.13 135.53 464.6 137.2C466.07 138.87 467.33 139.53 469 139.9C470.67 140.27 472.93 139.12 474.6 139.4C476.27 139.68 477.33 141.72 479 141.6C480.67 141.48 482.75 139.73 484.6 138.7C486.45 137.67 488.27 135.95 490.1 135.4C491.93 134.85 493.57 135.77 495.6 135.4C497.63 135.03 500.08 134.3 502.3 133.2C504.52 132.1 506.87 129.62 508.9 128.8C510.93 127.98 512.65 127.93 514.5 128.3C516.35 128.67 518.35 130.17 520 131C521.65 131.83 522.92 132.12 524.4 133.3C525.88 134.48 527.42 136.82 528.9 138.1C530.38 139.38 531.45 140.7 533.3 141C535.15 141.3 537.42 140.27 540 139.9C542.58 139.53 545.85 139.17 548.8 138.8C551.75 138.43 555.12 138.25 557.7 137.7C560.28 137.15 562.27 135.68 564.3 135.5C566.33 135.32 568.23 135.93 569.9 136.6C571.57 137.27 572.63 138.03 574.3 139.5C575.97 140.97 577.87 143.93 579.9 145.4C581.93 146.87 584.28 147.45 586.5 148.3C588.72 149.15 590.98 149.75 593.2 150.5C595.42 151.25 597.72 152.13 599.8 152.8C601.88 153.47 603.77 154.12 605.7 154.5C607.63 154.88 609.5 154.85 611.4 155.1C613.3 155.35 615.37 155.53 617.1 156C618.83 156.47 620.22 158.05 621.8 157.9C623.38 157.75 624.85 156.03 626.6 155.1C628.35 154.17 630.42 152.4 632.3 152.3C634.18 152.2 636.02 153.57 637.9 154.5C639.78 155.43 641.7 157.8 643.6 157.9C645.5 158 647.4 155.78 649.3 155.1C651.2 154.42 653.1 153.9 655 153.8C656.9 153.7 658.8 154.5 660.7 154.5C662.6 154.5 664.5 154.12 666.4 153.8C668.3 153.48 670.2 152.6 672.1 152.6C674 152.6 675.75 153.38 677.8 153.8C679.85 154.22 683.3 154.88 684.4 155.1" fill="none" stroke="#d6972f" stroke-width="1.2"/><path d="M443.5 154.5C444.43 155.32 447.07 157.92 449.1 159.4C451.13 160.88 453.85 161.92 455.7 163.4C457.55 164.88 458.72 166.45 460.2 168.3C461.68 170.15 463.13 172.73 464.6 174.5C466.07 176.27 467.33 177.92 469 178.9C470.67 179.88 472.93 180.25 474.6 180.4C476.27 180.55 477.53 180.78 479 179.8C480.47 178.82 481.92 175.62 483.4 174.5C484.88 173.38 486.23 173.1 487.9 173.1C489.57 173.1 491.55 173.75 493.4 174.5C495.25 175.25 497.15 176.72 499 177.6C500.85 178.48 502.47 179.13 504.5 179.8C506.53 180.47 508.98 181.12 511.2 181.6C513.42 182.08 515.6 181.68 517.8 182.7C520 183.72 522.37 186.68 524.4 187.7C526.43 188.72 528.33 189.53 530 188.8C531.67 188.07 532.93 184.97 534.4 183.3C535.87 181.63 537.13 179.73 538.8 178.8C540.47 177.87 542.73 177.8 544.4 177.7C546.07 177.6 547.32 177.53 548.8 178.2C550.28 178.87 551.63 180.3 553.3 181.7C554.97 183.1 556.97 184.3 558.8 186.6C560.63 188.9 562.45 192.92 564.3 195.5C566.15 198.08 568.05 200.92 569.9 202.1C571.75 203.28 573.55 202.67 575.4 202.6C577.25 202.53 579.15 201.42 581 201.7C582.85 201.98 584.67 203.2 586.5 204.3C588.33 205.4 590.15 207.73 592 208.3C593.85 208.87 595.75 208.55 597.6 207.7C599.45 206.85 601.12 203.73 603.1 203.2C605.08 202.67 607.48 204.18 609.5 204.5C611.52 204.82 613.3 204.9 615.2 205.1C617.1 205.3 619 205.48 620.9 205.7C622.8 205.92 624.7 205.93 626.6 206.4C628.5 206.87 630.73 208.08 632.3 208.5C633.87 208.92 634.43 209.15 636 208.9C637.57 208.65 639.8 207.63 641.7 207C643.6 206.37 645.5 205.63 647.4 205.1C649.3 204.57 651.2 204.43 653.1 203.8C655 203.17 657.37 201.62 658.8 201.3C660.23 200.98 660.58 201.17 661.7 201.9C662.82 202.63 664.25 204.7 665.5 205.7C666.75 206.7 667.95 207.9 669.2 207.9C670.45 207.9 671.57 206.27 673 205.7C674.43 205.13 675.9 204.28 677.8 204.5C679.7 204.72 683.3 206.58 684.4 207" fill="none" stroke="#1a5775" stroke-width="1.2"/><path d="M441.8 178.8C442.43 179.65 443.7 181.92 445.6 183.9C447.5 185.88 450.67 188.47 453.2 190.7C455.73 192.93 458.48 195.18 460.8 197.3C463.12 199.42 465 201.63 467.1 203.4C469.2 205.17 471.52 207.35 473.4 207.9C475.28 208.45 476.72 207.75 478.4 206.7C480.08 205.65 481.6 202.87 483.5 201.6C485.4 200.33 487.7 199.4 489.8 199.1C491.9 198.8 493.98 198.97 496.1 199.8C498.22 200.63 500.6 202.12 502.5 204.1C504.4 206.08 505.82 208.95 507.5 211.7C509.18 214.45 510.92 217.43 512.6 220.6C514.28 223.77 515.92 227.75 517.6 230.7C519.28 233.65 520.92 236.03 522.7 238.3C524.48 240.57 526.58 242.92 528.3 244.3C530.02 245.68 531.42 246.38 533 246.6C534.58 246.82 536.22 245.98 537.8 245.6C539.38 245.22 540.92 244.62 542.5 244.3C544.08 243.98 545.72 243.48 547.3 243.7C548.88 243.92 550.42 245.18 552 245.6C553.58 246.02 555.05 246.28 556.8 246.2C558.55 246.12 560.6 245.52 562.5 245.1C564.4 244.68 566.3 243.7 568.2 243.7C570.1 243.7 572 244.3 573.9 245.1C575.8 245.9 577.87 247.15 579.6 248.5C581.33 249.85 582.73 251.78 584.3 253.2C585.87 254.62 587.58 256.68 589 257C590.42 257.32 591.22 255.88 592.8 255.1C594.38 254.32 596.72 252.25 598.5 252.3C600.28 252.35 601.87 254.25 603.5 255.4C605.13 256.55 606.55 258.18 608.3 259.2C610.05 260.22 612.1 261.03 614 261.5C615.9 261.97 617.8 261.43 619.7 262C621.6 262.57 623.5 263.85 625.4 264.9C627.3 265.95 629.37 267.98 631.1 268.3C632.83 268.62 634.22 267.53 635.8 266.8C637.38 266.07 638.85 264.7 640.6 263.9C642.35 263.1 644.4 262.47 646.3 262C648.2 261.53 650.27 261.63 652 261.1C653.73 260.57 655.12 259.68 656.7 258.8C658.28 257.92 659.92 256.3 661.5 255.8C663.08 255.3 664.62 255.72 666.2 255.8C667.78 255.88 669.27 255.9 671 256.3C672.73 256.7 674.4 257.4 676.6 258.2C678.8 259 682.93 260.62 684.2 261.1" fill="none" stroke="#f6a39b" stroke-width="1.1"/><path d="M510.1 90L510.1 114.3" stroke="#d99a3a" stroke-width="1.2" fill="none"/><path d="M510.1 119.9L513.1 113.1L510.1 114.3L507.1 113.1Z" fill="#d99a3a"/><path d="M487.4 136.2L487.4 160.5" stroke="#1a5270" stroke-width="1.2" fill="none"/><path d="M487.4 166.1L490.4 159.3L487.4 160.5L484.4 159.3Z" fill="#1a5270"/><path d="M567.1 175.3L567.1 151.2" stroke="#d99a3a" stroke-width="1.2" fill="none"/><path d="M567.1 145.6L570.1 152.4L567.1 151.2L564.1 152.4Z" fill="#d99a3a"/><path d="M546.2 217.6L546.2 193.8" stroke="#4d7690" stroke-width="1.2" fill="none"/><path d="M546.2 188.2L549.2 195L546.2 193.8L543.2 195Z" fill="#1d4f68"/><path d="M491.3 239.8L491.3 215" stroke="#f7a9a1" stroke-width="1.2" fill="none"/><path d="M491.3 209.4L494.3 216.2L491.3 215L488.3 216.2Z" fill="#f7a9a1"/><path d="M441.5 16.6V280.6" stroke="#1a1a1a" stroke-width="1.2" fill="none"/><path d="M441.5 278H685" stroke="#666" stroke-width="1.8" fill="none"/><path d="M438 21.5H441.5M438 66H441.5M438 110.5H441.5M438 155H441.5M438 199.5H441.5M438 244H441.5" stroke="#444" stroke-width="1.6" fill="none"/><path d="M482.6 277.9V280.5M523.8 277.9V280.5M565 277.9V280.5M606.2 277.9V280.5M647.4 277.9V280.5" stroke="#333" stroke-width="1.1" fill="none"/><path d="M292.3 21.4H314.9" stroke="#5f9070" stroke-width="1.4" fill="none"/><path d="M292.3 38.9H314.9" stroke="#e6bb80" stroke-width="1.4" fill="none"/><path d="M292.3 56.2H314.9" stroke="#3c6f8c" stroke-width="1.4" fill="none"/><path d="M292.3 73.5H314.9" stroke="#f8b9b2" stroke-width="1.4" fill="none"/>
<text x="322.8" y="26.6" font-size="14.3" text-anchor="start" font-weight="normal" >THz field</text><text x="322.8" y="43.5" font-size="14.3" text-anchor="start" font-weight="normal" >Na β-Al<tspan dy="4.9" font-size="10">2</tspan><tspan dy="-4.9">O</tspan><tspan dy="4.9" font-size="10">3</tspan></text><text x="322.8" y="61" font-size="14.3" text-anchor="start" font-weight="normal" >K β-Al<tspan dy="4.9" font-size="10">2</tspan><tspan dy="-4.9">O</tspan><tspan dy="4.9" font-size="10">3</tspan></text><text x="322.8" y="79.1" font-size="14.3" text-anchor="start" font-weight="normal" >Ag β-Al<tspan dy="4.9" font-size="10">2</tspan><tspan dy="-4.9">O</tspan><tspan dy="4.9" font-size="10">3</tspan></text><text x="2.6" y="13.8" font-size="16.1" text-anchor="start" font-weight="bold" style="fill:#000;stroke:#000;stroke-width:0.8px;stroke-linejoin:round">a</text><text x="413.2" y="13.9" font-size="16.1" text-anchor="start" font-weight="bold" style="fill:#000;stroke:#000;stroke-width:0.8px;stroke-linejoin:round">b</text><text x="27.6" y="295.3" font-size="14.4" text-anchor="end" font-weight="normal" >−2</text><text x="90" y="295.3" font-size="14.4" text-anchor="middle" font-weight="normal" >0</text><text x="155.7" y="295.3" font-size="14.4" text-anchor="middle" font-weight="normal" >2</text><text x="221.4" y="295.3" font-size="14.4" text-anchor="middle" font-weight="normal" >4</text><text x="287.1" y="295.3" font-size="14.4" text-anchor="middle" font-weight="normal" >6</text><text x="352.8" y="295.3" font-size="14.4" text-anchor="middle" font-weight="normal" >8</text><text x="159" y="312.8" font-size="14" text-anchor="start" font-weight="normal" >Time (ps)</text><text x="441.4" y="295.4" font-size="14.4" text-anchor="middle" font-weight="normal" >0</text><text x="482.6" y="295.4" font-size="14.4" text-anchor="middle" font-weight="normal" >1</text><text x="523.8" y="295.4" font-size="14.4" text-anchor="middle" font-weight="normal" >2</text><text x="565" y="295.4" font-size="14.4" text-anchor="middle" font-weight="normal" >3</text><text x="606.2" y="295.4" font-size="14.4" text-anchor="middle" font-weight="normal" >4</text><text x="647.4" y="295.4" font-size="14.4" text-anchor="middle" font-weight="normal" >5</text><text x="517.7" y="312.8" font-size="14" text-anchor="start" font-weight="normal" >Frequency (THz)</text><text x="365.0" y="246.2" font-size="14">N<tspan dy="5.2" font-size="10.5">2</tspan></text><text transform="translate(12.3 154.1) rotate(-90)" text-anchor="middle" font-size="14.3">Δ<tspan font-style="italic">I</tspan>/<tspan font-style="italic">I</tspan> (normalized)</text><text transform="translate(424.4 151.9) rotate(-90)" text-anchor="middle" font-size="14.4">FFT power (<tspan dx="-1.8" style="letter-spacing:0.12px">logarithmic units)</tspan></text>
</svg>
</body></html>
